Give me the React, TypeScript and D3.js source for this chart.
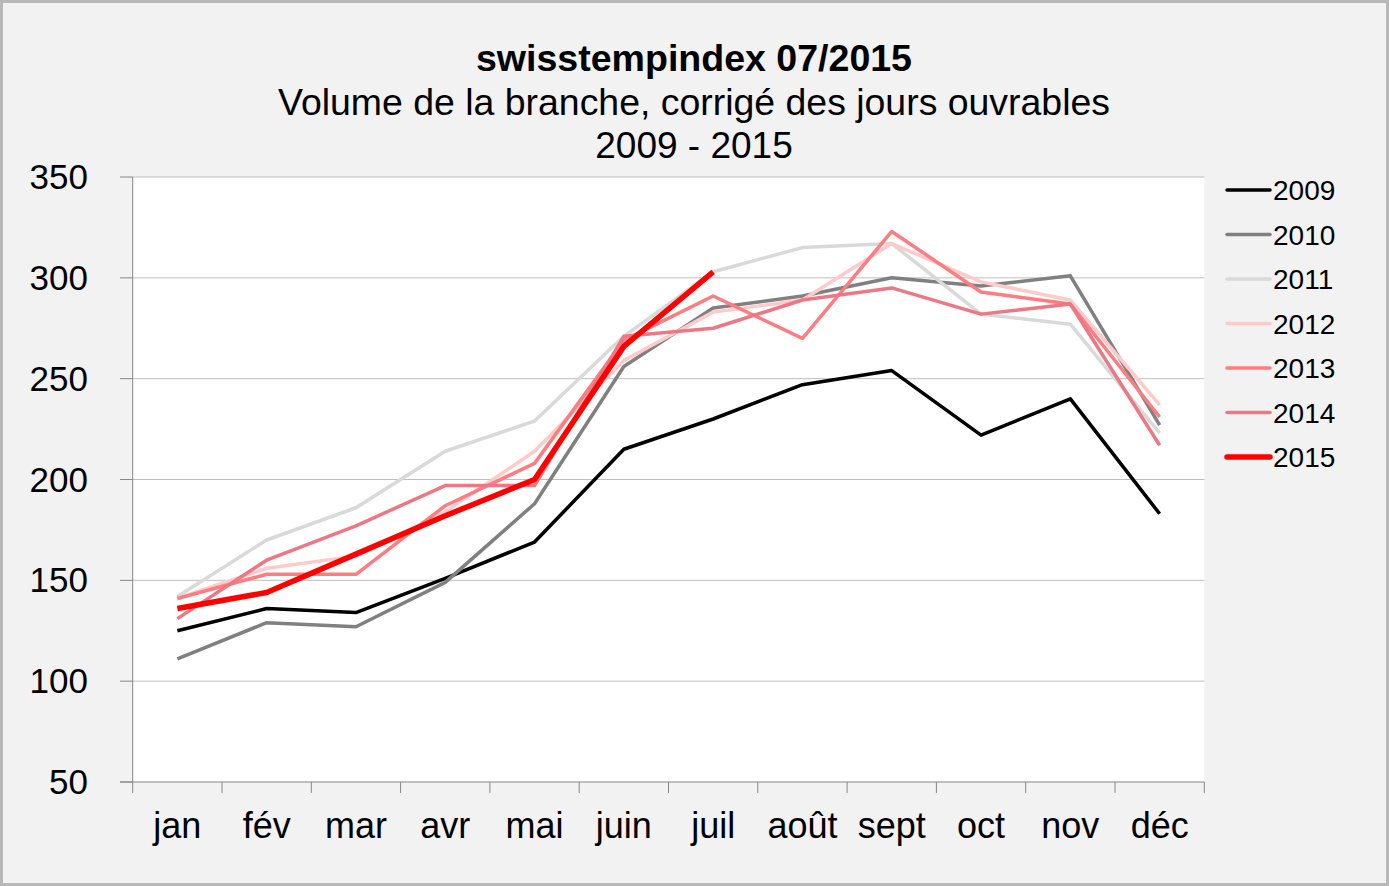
import React, { useEffect } from "react";
import * as d3 from "d3";

// months on the x axis
const months = ["jan", "fév", "mar", "avr", "mai", "juin", "juil", "août", "sept", "oct", "nov", "déc"];
const yTicks = [50, 100, 150, 200, 250, 300, 350];

// values per year
const v2009 = [125, 136, 134, 151, 169, 215, 230, 247, 254, 222, 240, 183];
const v2010 = [111, 129, 127, 149, 188, 256, 285, 291, 300, 296, 301, 227];
const v2011 = [142, 170, 186, 214, 229, 271, 303, 315, 317, 282, 277, 223];
const v2012 = [141, 156, 162, 184, 214, 259, 283, 289, 317, 298, 289, 237];
const v2013 = [141, 153, 153, 187, 208, 269, 291, 270, 323, 293, 287, 231];
const v2014 = [131, 160, 177, 197, 197, 271, 275, 289, 295, 282, 287, 217];
const v2015 = [136, 144, 163, 182, 200, 266, 303];

const series = [
  { name: "2009", values: v2009, color: "#000000", w: 3.5 },
  { name: "2010", values: v2010, color: "#808080", w: 3.5 },
  { name: "2011", values: v2011, color: "#d9d9d9", w: 3.5 },
  { name: "2012", values: v2012, color: "#ffcaca", w: 3.5 },
  { name: "2013", values: v2013, color: "#ff7c80", w: 3.5 },
  { name: "2014", values: v2014, color: "#eb7884", w: 3.5 },
  { name: "2015", values: v2015, color: "#ff0000", w: 5.5 },
];

const W = 1389,
  H = 886;
const plot = { left: 132.7, right: 1204.3, top: 177, bottom: 782 };
const font = "Liberation Sans, Arial, sans-serif";

export default function App() {
  useEffect(() => {
    document.body.style.margin = "0";
  }, []);

  const x = d3.scaleBand<string>().domain(months).range([plot.left, plot.right]).padding(0);
  const y = d3.scaleLinear().domain([50, 350]).range([plot.bottom, plot.top]);
  const cx = (i: number) => (x(months[i]) as number) + x.bandwidth() / 2;

  const line = d3
    .line<number>()
    .x((d, i) => cx(i))
    .y((d) => y(d));

  const boundaries = months.map((m) => x(m) as number).concat([plot.right]);

  return (
    <svg width={W} height={H} style={{ display: "block" }} fontFamily={font}>
      <rect x={1.5} y={1.5} width={W - 3} height={H - 3} fill="#f2f2f2" stroke="#b8b8b8" strokeWidth={3} />

      {/* titles */}
      <g textAnchor="middle" fill="#000">
        <text x={694} y={71} fontSize={37} fontWeight="bold" textLength={436} lengthAdjust="spacingAndGlyphs">
          swisstempindex 07/2015
        </text>
        <text x={694} y={115} fontSize={37} textLength={832} lengthAdjust="spacingAndGlyphs">
          Volume de la branche, corrigé des jours ouvrables
        </text>
        <text x={694} y={158} fontSize={37}>
          2009 - 2015
        </text>
      </g>

      {/* plot area */}
      <rect x={plot.left} y={plot.top} width={plot.right - plot.left} height={plot.bottom - plot.top} fill="#fff" />

      {/* gridlines and y axis */}
      {yTicks.map((t) => (
        <g key={t}>
          {t > 50 && <line x1={plot.left} x2={plot.right} y1={y(t)} y2={y(t)} stroke="#bfbfbf" strokeWidth={1} />}
          <line x1={120} x2={plot.left} y1={y(t)} y2={y(t)} stroke="#868686" strokeWidth={1} />
          <text x={88} y={y(t) + 12} fontSize={35} textAnchor="end" fill="#000">
            {t}
          </text>
        </g>
      ))}
      <line x1={plot.left} x2={plot.left} y1={plot.top} y2={plot.bottom} stroke="#868686" strokeWidth={1} />

      {/* x axis */}
      <line x1={120} x2={plot.right} y1={plot.bottom} y2={plot.bottom} stroke="#868686" strokeWidth={1} />
      {boundaries.map((b, i) => (
        <line key={i} x1={b} x2={b} y1={plot.bottom} y2={793} stroke="#868686" strokeWidth={1} />
      ))}
      {months.map((m, i) => (
        <text key={m} x={cx(i)} y={838} fontSize={36} textAnchor="middle" fill="#000">
          {m}
        </text>
      ))}

      {/* series */}
      {series.map((s) => (
        <path
          key={s.name}
          d={line(s.values) || ""}
          fill="none"
          stroke={s.color}
          strokeWidth={s.w}
          strokeLinejoin="round"
        />
      ))}

      {/* legend */}
      {series.map((s, i) => (
        <g key={s.name} transform={`translate(0,${190 + i * 44.5})`}>
          <line x1={1227} x2={1270} y1={0} y2={0} stroke={s.color} strokeWidth={s.w} strokeLinecap="round" />
          <text x={1273} y={10} fontSize={28} fill="#000">
            {s.name}
          </text>
        </g>
      ))}
    </svg>
  );
}
